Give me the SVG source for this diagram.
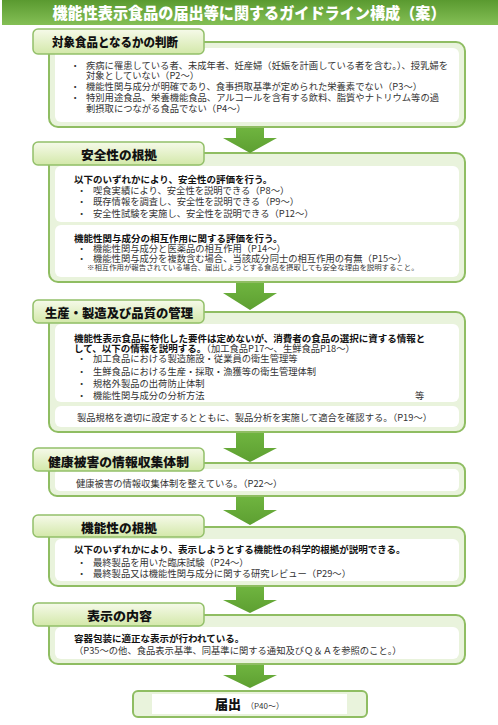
<svg xmlns="http://www.w3.org/2000/svg" width="498" height="725" viewBox="0 0 498 725">
<defs>
<linearGradient id="gTitle" x1="0" y1="0" x2="0" y2="1">
<stop offset="0" stop-color="#5a9a30"/><stop offset="1" stop-color="#84bf55"/>
</linearGradient>
<linearGradient id="gTab" x1="0" y1="0" x2="0" y2="1">
<stop offset="0" stop-color="#f6faea"/><stop offset="1" stop-color="#d3e8a9"/>
</linearGradient>
<linearGradient id="gArrow" x1="0" y1="0" x2="0" y2="1">
<stop offset="0" stop-color="#6fb43f"/><stop offset="1" stop-color="#5d9f31"/>
</linearGradient>
</defs>
<style>
.box{fill:#e9f3dc;stroke:#8fbd62;stroke-width:2}
.in{fill:#ffffff}
.tab{fill:url(#gTab);stroke:#93c06a;stroke-width:1.5}
.arr{fill:url(#gArrow)}
text{font-family:"Noto Sans CJK JP","Noto Sans",sans-serif}
.t{font-size:9.3px;fill:#333}
.b{font-size:9.5px;font-weight:700;fill:#111}
.h{font-size:12.5px;font-weight:900;fill:#111}
.n{font-size:7.4px;fill:#333}
</style>
<rect width="498" height="725" fill="#ffffff"/>
<g id="title">
<rect x="2" y="0" width="496" height="25" fill="url(#gTitle)"/>
<text x="249" y="19" text-anchor="middle" font-size="15.7" font-weight="900" fill="#ffffff" textLength="393" lengthAdjust="spacingAndGlyphs">機能性表示食品の届出等に関するガイドライン構成（案）</text>
</g>
<g id="s1">
<rect class="box" x="49" y="42" width="416" height="85" rx="9"/>
<rect class="in" x="55" y="48" width="404" height="74" rx="6"/>
<rect class="tab" x="33" y="29" width="171" height="25" rx="5"/>
<text class="h" x="52" y="47" textLength="126" lengthAdjust="spacingAndGlyphs">対象食品となるかの判断</text>
<text class="t" x="70.5" y="68.5">・</text>
<text class="t" x="86" y="68.5">疾病に罹患している者、未成年者、妊産婦（妊娠を計画している者を含む。）、授乳婦を</text>
<text class="t" x="86" y="79.3">対象としていない（P2～）</text>
<text class="t" x="70.5" y="90">・</text>
<text class="t" x="86" y="90">機能性関与成分が明確であり、食事摂取基準が定められた栄養素でない（P3～）</text>
<text class="t" x="70.5" y="100.7">・</text>
<text class="t" x="86" y="100.7">特別用途食品、栄養機能食品、アルコールを含有する飲料、脂質やナトリウム等の過</text>
<text class="t" x="86" y="111.5">剰摂取につながる食品でない（P4～）</text>
</g>
<g id="s2">
<rect class="box" x="49" y="153" width="416" height="129" rx="9"/>
<rect class="in" x="55" y="166" width="404" height="56" rx="6"/>
<rect class="in" x="55" y="225" width="404" height="52" rx="6"/>
<rect class="tab" x="33" y="142" width="171" height="23" rx="5"/>
<text class="h" x="81" y="159.5" textLength="76" lengthAdjust="spacingAndGlyphs">安全性の根拠</text>
<text class="b" x="74" y="182.8">以下のいずれかにより、安全性の評価を行う。</text>
<text class="t" x="77" y="193.5">・</text>
<text class="t" x="93" y="193.5">喫食実績により、安全性を説明できる（P8～）</text>
<text class="t" x="77" y="205.2">・</text>
<text class="t" x="93" y="205.2">既存情報を調査し、安全性を説明できる（P9～）</text>
<text class="t" x="77" y="216.8">・</text>
<text class="t" x="93" y="216.8">安全性試験を実施し、安全性を説明できる（P12～）</text>
<text class="b" x="74" y="241.8">機能性関与成分の相互作用に関する評価を行う。</text>
<text class="t" x="77" y="251.8">・</text>
<text class="t" x="93" y="251.8">機能性関与成分と医薬品の相互作用（P14～）</text>
<text class="t" x="77" y="261.8">・</text>
<text class="t" x="93" y="261.8">機能性関与成分を複数含む場合、当該成分同士の相互作用の有無（P15～）</text>
<text class="n" x="87" y="270">※相互作用が報告されている場合、届出しようとする食品を摂取しても安全な理由を説明すること。</text>
</g>
<g id="s3">
<rect class="box" x="49" y="312" width="416" height="120" rx="9"/>
<rect class="in" x="55" y="324" width="404" height="78" rx="6"/>
<rect class="in" x="55" y="406" width="404" height="21" rx="6"/>
<rect class="tab" x="33" y="300" width="171" height="23" rx="5"/>
<text class="h" x="45" y="317.5" textLength="148" lengthAdjust="spacingAndGlyphs">生産・製造及び品質の管理</text>
<text class="b" x="74" y="341.8">機能性表示食品に特化した要件は定めないが、消費者の食品の選択に資する情報と</text>
<text x="74" y="351.8"><tspan class="b">して、以下の情報を説明する。</tspan><tspan class="t">（加工食品P17～、生鮮食品P18～）</tspan></text>
<text class="t" x="77" y="361.5">・</text>
<text class="t" x="93" y="361.5">加工食品における製造施設・従業員の衛生管理等</text>
<text class="t" x="77" y="374.5">・</text>
<text class="t" x="93" y="374.5">生鮮食品における生産・採取・漁獲等の衛生管理体制</text>
<text class="t" x="77" y="387">・</text>
<text class="t" x="93" y="387">規格外製品の出荷防止体制</text>
<text class="t" x="77" y="398.5">・</text>
<text class="t" x="93" y="398.5">機能性関与成分の分析方法</text>
<text class="t" x="415" y="398.5">等</text>
<text class="t" x="77" y="420.5">製品規格を適切に設定するとともに、製品分析を実施して適合を確認する。（P19～）</text>
</g>
<g id="s4">
<rect class="box" x="49" y="463" width="416" height="33" rx="8"/>
<rect class="in" x="55" y="469" width="404" height="22" rx="5"/>
<rect class="tab" x="33" y="448" width="171" height="23" rx="5"/>
<text class="h" x="48" y="466.5" textLength="141" lengthAdjust="spacingAndGlyphs">健康被害の情報収集体制</text>
<text class="t" x="76" y="486.5">健康被害の情報収集体制を整えている。（P22～）</text>
</g>
<g id="s5">
<rect class="box" x="49" y="527" width="416" height="59" rx="9"/>
<rect class="in" x="55" y="539" width="404" height="42" rx="6"/>
<rect class="tab" x="33" y="515" width="171" height="22" rx="5"/>
<text class="h" x="81" y="532.5" textLength="76" lengthAdjust="spacingAndGlyphs">機能性の根拠</text>
<text class="b" x="74" y="552.5">以下のいずれかにより、表示しようとする機能性の科学的根拠が説明できる。</text>
<text class="t" x="77" y="565.5">・</text>
<text class="t" x="93" y="565.5">最終製品を用いた臨床試験（P24～）</text>
<text class="t" x="77" y="576.5">・</text>
<text class="t" x="93" y="576.5">最終製品又は機能性関与成分に関する研究レビュー（P29～）</text>
</g>
<g id="s6">
<rect class="box" x="49" y="615" width="416" height="49" rx="9"/>
<rect class="in" x="55" y="627" width="404" height="32" rx="6"/>
<rect class="tab" x="33" y="603" width="171" height="23" rx="5"/>
<text class="h" x="87" y="620.5" textLength="65" lengthAdjust="spacingAndGlyphs">表示の内容</text>
<text class="b" x="74" y="641.5">容器包装に適正な表示が行われている。</text>
<text class="t" x="74" y="653.5">（P35～の他、食品表示基準、同基準に関する通知及びＱ＆Ａを参照のこと。）</text>
</g>
<g id="s7">
<rect class="box" x="133" y="691" width="234" height="26" rx="5"/>
<rect class="in" x="152" y="694" width="195" height="20"/>
<text x="215" y="709"><tspan font-size="13" font-weight="900" fill="#111">届出</tspan><tspan font-size="8" fill="#333" dx="5">（P40～）</tspan></text>
</g>
<g id="connectors">
<polygon class="arr" points="236,128 264,128 264,138 277,138 250,153 223,138 236,138"/>
<polygon class="arr" points="236,283 264,283 264,293 277,293 250,310 223,293 236,293"/>
<polygon class="arr" points="236,433 264,433 264,448 277,448 250,462 223,448 236,448"/>
<polygon class="arr" points="236,497 264,497 264,510 277,510 250,525 223,510 236,510"/>
<polygon class="arr" points="236,587 264,587 264,600 277,600 250,613 223,600 236,600"/>
<polygon class="arr" points="236,665 264,665 264,675 277,675 250,688 223,675 236,675"/>
</g>
</svg>
